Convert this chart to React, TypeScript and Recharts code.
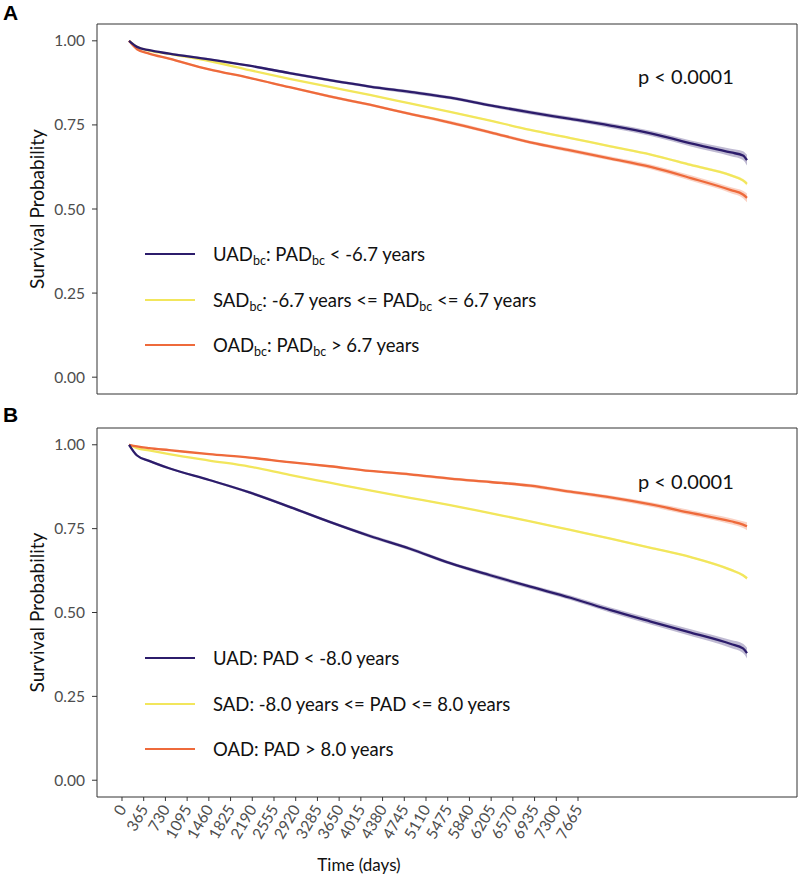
import React from 'react';
import { ComposedChart, Line, Area, XAxis, YAxis, ReferenceArea, Label } from 'recharts';

const FONT = 'Lato, "Open Sans", sans-serif';

// follow-up time (days) where the survival curves are sampled
const timeDays = [0, 100, 250, 500, 1000, 1500, 2000, 2500, 3000, 3500, 4000, 4500, 5000, 5500, 6000, 6500, 7000, 7500, 7650, 7700];

// panel A: bias-corrected age-gap groups
const uadBc = [1.0, 0.982, 0.972, 0.962, 0.945, 0.926, 0.904, 0.883, 0.864, 0.848, 0.831, 0.808, 0.787, 0.768, 0.748, 0.725, 0.695, 0.668, 0.659, 0.645];
const sadBc = [1.0, 0.982, 0.971, 0.961, 0.94, 0.913, 0.887, 0.863, 0.839, 0.814, 0.789, 0.763, 0.735, 0.711, 0.686, 0.662, 0.631, 0.6, 0.585, 0.575];
const oadBc = [1.0, 0.975, 0.962, 0.947, 0.915, 0.89, 0.862, 0.835, 0.81, 0.783, 0.757, 0.728, 0.698, 0.674, 0.65, 0.625, 0.592, 0.556, 0.543, 0.533];
// half-width of the 95% confidence band
const uadBcCi = [0, 0.002, 0.002, 0.003, 0.003, 0.003, 0.004, 0.004, 0.004, 0.005, 0.005, 0.005, 0.006, 0.006, 0.007, 0.008, 0.009, 0.011, 0.013, 0.016];
const sadBcCi = [0, 0.001, 0.001, 0.001, 0.001, 0.001, 0.002, 0.002, 0.002, 0.002, 0.002, 0.002, 0.003, 0.003, 0.003, 0.003, 0.004, 0.004, 0.005, 0.006];
const oadBcCi = [0, 0.002, 0.002, 0.003, 0.003, 0.003, 0.003, 0.004, 0.004, 0.004, 0.005, 0.005, 0.005, 0.006, 0.006, 0.007, 0.008, 0.009, 0.011, 0.013];

// panel B: uncorrected age-gap groups
const uad = [1.0, 0.968, 0.952, 0.93, 0.895, 0.858, 0.815, 0.77, 0.728, 0.69, 0.647, 0.611, 0.577, 0.544, 0.507, 0.473, 0.44, 0.406, 0.393, 0.379];
const sad = [1.0, 0.99, 0.983, 0.972, 0.953, 0.935, 0.91, 0.887, 0.864, 0.842, 0.82, 0.796, 0.772, 0.746, 0.72, 0.693, 0.665, 0.627, 0.611, 0.602];
const oad = [1.0, 0.995, 0.99, 0.984, 0.972, 0.962, 0.948, 0.936, 0.922, 0.912, 0.899, 0.889, 0.878, 0.86, 0.843, 0.822, 0.797, 0.772, 0.762, 0.757];
const uadCi = [0, 0.002, 0.003, 0.003, 0.003, 0.004, 0.004, 0.004, 0.005, 0.005, 0.005, 0.006, 0.006, 0.007, 0.008, 0.009, 0.01, 0.012, 0.014, 0.016];
const sadCi = [0, 0.001, 0.001, 0.001, 0.001, 0.001, 0.001, 0.002, 0.002, 0.002, 0.002, 0.002, 0.002, 0.003, 0.003, 0.003, 0.003, 0.004, 0.004, 0.005];
const oadCi = [0, 0.001, 0.001, 0.002, 0.002, 0.002, 0.003, 0.003, 0.003, 0.004, 0.004, 0.004, 0.005, 0.005, 0.006, 0.007, 0.008, 0.009, 0.01, 0.012];

const dayTicks = [0, 365, 730, 1095, 1460, 1825, 2190, 2555, 2920, 3285, 3650, 4015, 4380, 4745, 5110, 5475, 5840, 6205, 6570, 6935, 7300, 7665];
const survTicks = [0, 0.25, 0.5, 0.75, 1];

const COLORS = { u: '#2c1c6b', s: '#f2e65c', o: '#ee6a3b' };

type Row = { t: number; u: number; s: number; o: number; uBand: number[]; sBand: number[]; oBand: number[] };

function buildRows(u: number[], s: number[], o: number[], uc: number[], sc: number[], oc: number[]): Row[] {
  return timeDays.map((t, i) => ({
    t,
    u: u[i],
    s: s[i],
    o: o[i],
    uBand: [u[i] - uc[i], u[i] + uc[i]],
    sBand: [s[i] - sc[i], s[i] + sc[i]],
    oBand: [o[i] - oc[i], o[i] + oc[i]],
  }));
}

const rowsA = buildRows(uadBc, sadBc, oadBc, uadBcCi, sadBcCi, oadBcCi);
const rowsB = buildRows(uad, sad, oad, uadCi, sadCi, oadCi);

// data axis and the printed day axis use separate scales
const T_DOMAIN: [number, number] = [-399, 8323];
const TICK_DOMAIN: [number, number] = [-420, 11346];
const Y_DOMAIN: [number, number] = [-0.05, 1.05];

const DayTick = (props: any) => {
  const { x, y, payload } = props;
  const ax = x + 5;
  const ay = y + 6;
  return (
    <text x={ax} y={ay} transform={`rotate(-60 ${ax} ${ay})`} textAnchor="end" fontSize={15.5} fill="#4d4d4d" fontFamily={FONT}>
      {payload.value}
    </text>
  );
};

const YTitle = (props: any) => {
  const { viewBox } = props;
  const cy = viewBox.y + viewBox.height / 2;
  return (
    <text x={36} y={cy} transform={`rotate(-90 36 ${cy})`} textAnchor="middle" dominantBaseline="central" fontSize={19} fill="#111" fontFamily={FONT}>
      Survival Probability
    </text>
  );
};

function Panel({ rows, height, withDays }: { rows: Row[]; height: number; withDays: boolean }) {
  return (
    <ComposedChart width={800} height={height} data={rows} margin={{ top: 24, right: 3, bottom: withDays ? 0 : 6, left: 37 }}>
      <XAxis xAxisId="t" dataKey="t" type="number" domain={T_DOMAIN} allowDataOverflow hide />
      {withDays && (
        <XAxis
          xAxisId="days"
          dataKey="t"
          type="number"
          domain={TICK_DOMAIN}
          allowDataOverflow
          ticks={dayTicks}
          interval={0}
          height={85}
          axisLine={false}
          tickLine={{ stroke: '#333' }}
          tickSize={4}
          tick={<DayTick />}
        />
      )}
      <YAxis
        type="number"
        domain={Y_DOMAIN}
        allowDataOverflow
        ticks={survTicks}
        width={60}
        axisLine={false}
        tickLine={{ stroke: '#333' }}
        tickSize={5}
        tickMargin={7}
        tickFormatter={(v: number) => v.toFixed(2)}
        tick={{ fontSize: 15.5, fill: '#4d4d4d', fontFamily: FONT }}
      >
        <Label content={<YTitle />} />
      </YAxis>
      <Area xAxisId="t" type="monotone" dataKey="uBand" stroke="none" fill={COLORS.u} fillOpacity={0.3} isAnimationActive={false} />
      <Area xAxisId="t" type="monotone" dataKey="sBand" stroke="none" fill={COLORS.s} fillOpacity={0.3} isAnimationActive={false} />
      <Area xAxisId="t" type="monotone" dataKey="oBand" stroke="none" fill={COLORS.o} fillOpacity={0.3} isAnimationActive={false} />
      <Line xAxisId="t" type="monotone" dataKey="s" stroke={COLORS.s} strokeWidth={2.3} dot={false} isAnimationActive={false} />
      <Line xAxisId="t" type="monotone" dataKey="o" stroke={COLORS.o} strokeWidth={2.3} dot={false} isAnimationActive={false} />
      <Line xAxisId="t" type="monotone" dataKey="u" stroke={COLORS.u} strokeWidth={2.3} dot={false} isAnimationActive={false} />
      {/* panel frame */}
      <ReferenceArea xAxisId="t" x1={T_DOMAIN[0]} x2={T_DOMAIN[1]} y1={Y_DOMAIN[0]} y2={Y_DOMAIN[1]} fill="none" stroke="#333" strokeWidth={1} ifOverflow="visible" />
    </ComposedChart>
  );
}

type LegendRow = { color: string; label: React.ReactNode };

const sub = (s: string) => <sub style={{ fontSize: 12.5, verticalAlign: 'baseline', position: 'relative', top: 4 }}>{s}</sub>;

const legendA: LegendRow[] = [
  { color: COLORS.u, label: <>UAD{sub('bc')}: PAD{sub('bc')} &lt; -6.7 years</> },
  { color: COLORS.s, label: <>SAD{sub('bc')}: -6.7 years &lt;= PAD{sub('bc')} &lt;= 6.7 years</> },
  { color: COLORS.o, label: <>OAD{sub('bc')}: PAD{sub('bc')} &gt; 6.7 years</> },
];
const legendB: LegendRow[] = [
  { color: COLORS.u, label: <>UAD: PAD &lt; -8.0 years</> },
  { color: COLORS.s, label: <>SAD: -8.0 years &lt;= PAD &lt;= 8.0 years</> },
  { color: COLORS.o, label: <>OAD: PAD &gt; 8.0 years</> },
];

function Legend({ rows, tops }: { rows: LegendRow[]; tops: number[] }) {
  return (
    <>
      {rows.map((r, i) => (
        <div key={i} style={{ position: 'absolute', left: 145, top: tops[i] - 12, height: 24, display: 'flex', alignItems: 'center', whiteSpace: 'nowrap' }}>
          <div style={{ width: 50, height: 2.4, background: r.color }} />
          <div style={{ marginLeft: 18, fontSize: 18.5, color: '#111', fontFamily: FONT }}>{r.label}</div>
        </div>
      ))}
    </>
  );
}

const textStyle: React.CSSProperties = { position: 'absolute', whiteSpace: 'nowrap', lineHeight: 1 };

export default function App() {
  return (
    <div style={{ position: 'absolute', left: 0, top: 0, width: 800, height: 882, background: '#fff', fontFamily: FONT }}>
      <div style={{ position: 'absolute', left: 0, top: 0 }}>
        <Panel rows={rowsA} height={400} withDays={false} />
      </div>
      <div style={{ position: 'absolute', left: 0, top: 404 }}>
        <Panel rows={rowsB} height={478} withDays={true} />
      </div>

      <div style={{ ...textStyle, left: 3, top: 2, fontSize: 21, fontWeight: 700, fontFamily: '"Liberation Sans", Arial, sans-serif' }}>A</div>
      <div style={{ ...textStyle, left: 3, top: 404, fontSize: 21, fontWeight: 700, fontFamily: '"Liberation Sans", Arial, sans-serif' }}>B</div>

      <div style={{ ...textStyle, left: 638, top: 66, fontSize: 20, color: '#111' }}>p &lt; 0.0001</div>
      <div style={{ ...textStyle, left: 638, top: 471, fontSize: 20, color: '#111' }}>p &lt; 0.0001</div>

      <Legend rows={legendA} tops={[254, 300, 345]} />
      <Legend rows={legendB} tops={[658, 704, 749]} />

      <div style={{ ...textStyle, left: 359, top: 856, transform: 'translateX(-50%)', fontSize: 17, color: '#111' }}>Time (days)</div>
    </div>
  );
}
